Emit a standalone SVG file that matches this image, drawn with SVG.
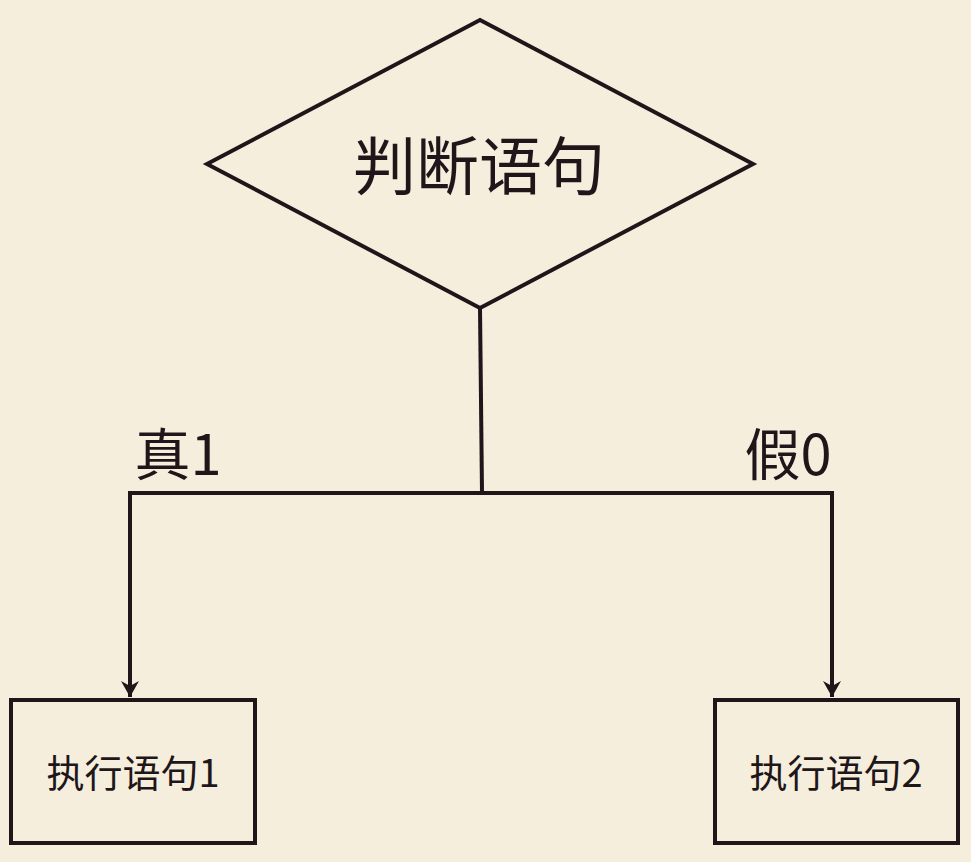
<svg xmlns="http://www.w3.org/2000/svg" width="971" height="862" viewBox="0 0 971 862">
<defs>
<style>
.s{fill:none;stroke:#1e1619;stroke-width:4}
.n{fill:#f5eedd;stroke:#1e1619;stroke-width:4}
.t{font-family:"Noto Sans CJK SC","Noto Sans",sans-serif;fill:#1e1619;text-anchor:middle}
</style>
<marker id="ah" viewBox="0 0 20 20" refX="18" refY="10" markerWidth="20" markerHeight="20" markerUnits="userSpaceOnUse" orient="auto">
<path d="M2,1 L18,10 L2,19 L7,10 Z" fill="#1e1619"/>
</marker>
</defs>
<rect width="971" height="862" fill="#f5eedd"/>
<g id="connectors">
<path class="s" d="M480,308 L482,493"/>
<path class="s" d="M130,493 L833,493"/>
<path class="s" d="M130,491 L130,697" marker-end="url(#ah)"/>
<path class="s" d="M832,491 L832,697" marker-end="url(#ah)"/>
</g>
<g id="decision">
<polygon class="n" points="480,20 207,164 480,308 753,164"/>
<text class="t" x="479" y="189" font-size="63">判断语句</text>
</g>
<g id="label-true"><text class="t" x="178" y="475" font-size="56">真1</text></g>
<g id="label-false"><text class="t" x="788" y="475" font-size="56">假0</text></g>
<g id="exec1">
<rect class="n" x="11" y="700" width="244" height="143"/>
<text class="t" x="133" y="787" font-size="38">执行语句1</text>
</g>
<g id="exec2">
<rect class="n" x="715" y="700" width="243" height="143"/>
<text class="t" x="836" y="787" font-size="38">执行语句2</text>
</g>
</svg>
